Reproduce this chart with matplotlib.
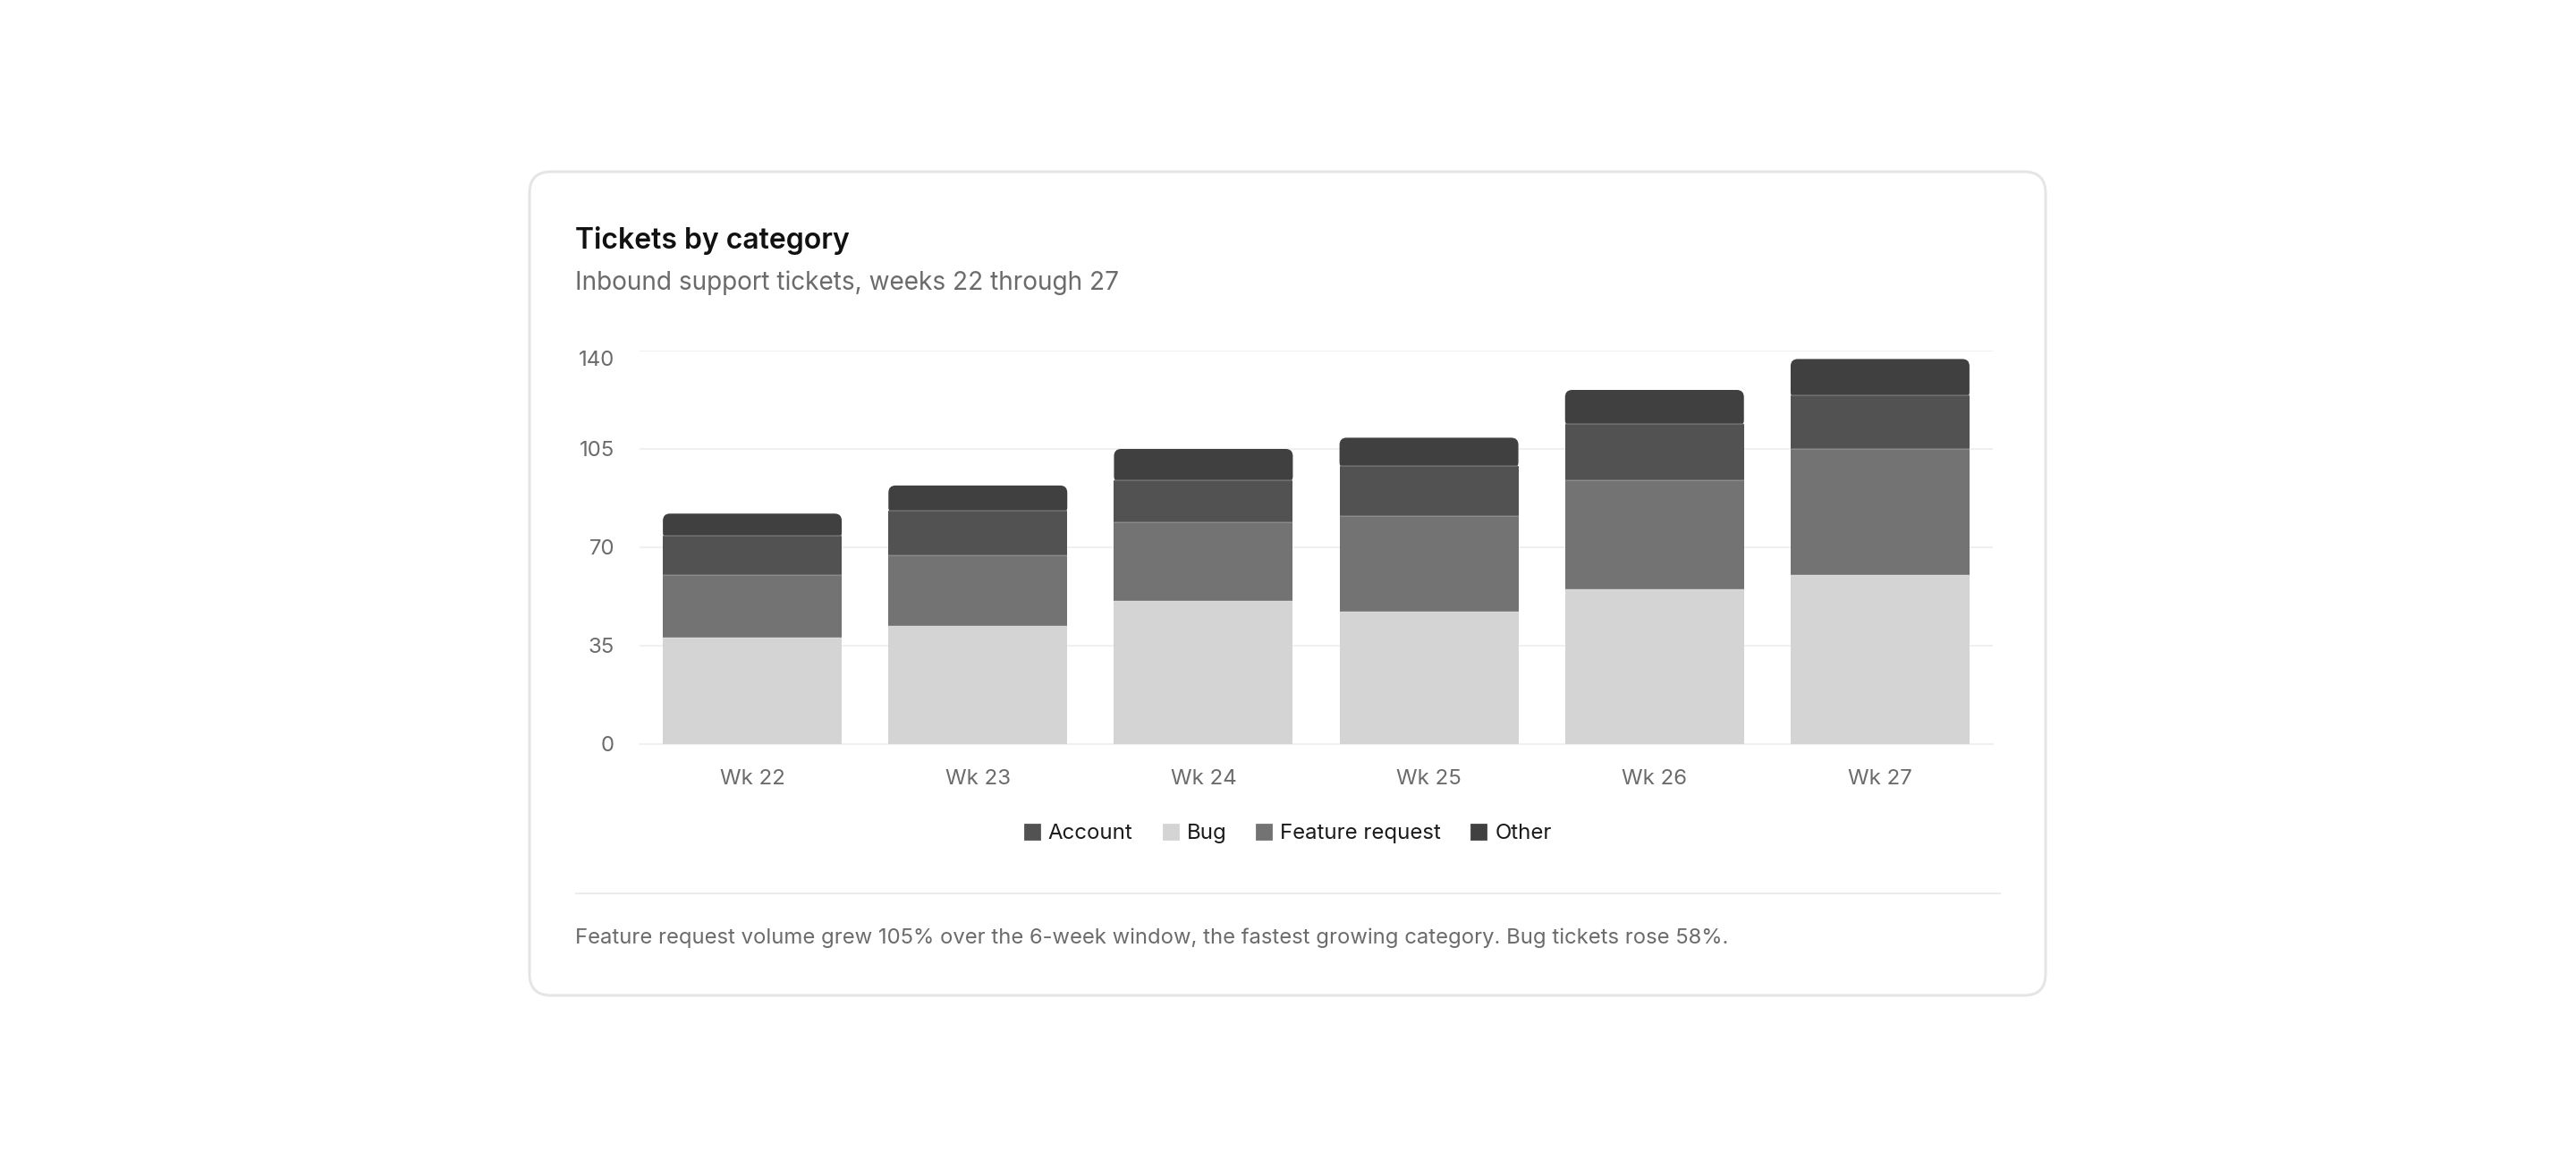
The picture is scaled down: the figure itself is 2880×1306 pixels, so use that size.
import matplotlib
matplotlib.use("Agg")
import matplotlib.pyplot as plt
from matplotlib.patches import FancyBboxPatch
from matplotlib.lines import Line2D
import matplotlib.transforms as mtransforms
import numpy as np

plt.rcParams['font.family'] = ['Inter', 'DejaVu Sans']

# ---------------- data ----------------
weeks = ["Wk 22", "Wk 23", "Wk 24", "Wk 25", "Wk 26", "Wk 27"]
bug = [38, 42, 51, 47, 55, 60]
feature_request = [22, 25, 28, 34, 39, 45]
account = [14, 16, 15, 18, 20, 19]
other = [8, 9, 11, 10, 12, 13]
y_ticks = [0, 35, 70, 105, 140]
legend_labels = ["Account", "Bug", "Feature request", "Other"]

title = "Tickets by category"
subtitle = "Inbound support tickets, weeks 22 through 27"
footer = ("Feature request volume grew 105% over the 6-week window, the fastest "
          "growing category. Bug tickets rose 58%.")

# ---------------- styles ----------------
C_BUG = "#d4d4d4"
C_FEAT = "#737373"
C_ACC = "#525252"
C_OTH = "#404040"
colors = {"Account": C_ACC, "Bug": C_BUG, "Feature request": C_FEAT, "Other": C_OTH}

W, H, DPI = 2880, 1306, 200
PT = 72.0 / DPI  # points per pixel

fig = plt.figure(figsize=(W / DPI, H / DPI), dpi=DPI)
fig.patch.set_facecolor("white")

# background axes in pixel coordinates
bg = fig.add_axes([0, 0, 1, 1])
bg.set_xlim(0, W)
bg.set_ylim(H, 0)
bg.axis("off")

card = FancyBboxPatch((592, 192), 2287 - 592, 1113 - 192,
                      boxstyle="round,pad=0,rounding_size=24",
                      fc="white", ec="#e5e5e5", lw=3 * PT)
bg.add_patch(card)

bg.text(643, 278, title, fontsize=32 * PT, fontweight="semibold",
        color="#111111", va="baseline", ha="left")
bg.text(643, 324, subtitle, fontsize=28 * PT, color="#6b6b6b",
        va="baseline", ha="left")
bg.plot([643, 2237], [999, 999], color="#ebebeb", lw=2 * PT,
        solid_capstyle="butt")
bg.text(643, 1055, footer, fontsize=23.85 * PT, color="#6b6b6b",
        va="baseline", ha="left")

# ---------------- chart ----------------
ax = fig.add_axes([715 / W, 1 - 832 / H, 1513 / W, 440 / H])
ax.set_facecolor("none")
x = np.arange(len(weeks))
bw = 0.793

b0 = np.zeros(len(weeks))
b1 = b0 + np.array(bug)
b2 = b1 + np.array(feature_request)
b3 = b2 + np.array(account)
b4 = b3 + np.array(other)

ax.bar(x, bug, bw, bottom=b0, color=C_BUG, zorder=3, linewidth=0)
ax.bar(x, feature_request, bw, bottom=b1, color=C_FEAT, zorder=3, linewidth=0)
ax.bar(x, account, bw, bottom=b2, color=C_ACC, zorder=3, linewidth=0)

# top segment with rounded upper corners
ax.set_xlim(-0.5, len(weeks) - 0.5)
ax.set_ylim(0, 140)
x_per_px = (len(weeks)) / 1513.0
y_per_px = 140.0 / 440.0
r_px = 8
for xi, lo, hi in zip(x, b3, b4):
    ext = 4 * y_per_px
    p = FancyBboxPatch((xi - bw / 2, lo - ext), bw, hi - lo + ext,
                       boxstyle=f"round,pad=0,rounding_size={r_px * x_per_px}",
                       mutation_aspect=y_per_px / x_per_px,
                       fc=C_OTH, ec="none", lw=0, zorder=2.5)
    ax.add_patch(p)

# subtle segment dividers
for tops in (b1, b2, b3):
    ax.hlines(tops, x - bw / 2, x + bw / 2, colors=(1, 1, 1, 0.22),
              lw=1.5 * PT, zorder=4)

ax.set_yticks(y_ticks)
ax.set_xticks(x)
ax.set_xticklabels(weeks)
ax.grid(axis="y", color="#f0f0f0", lw=2 * PT, zorder=0)
ax.set_axisbelow(True)
for s in ("top", "right", "left"):
    ax.spines[s].set_visible(False)
ax.spines["bottom"].set_color("#f0f0f0")
ax.spines["bottom"].set_linewidth(2 * PT)
ax.tick_params(axis="both", length=0, labelsize=24 * PT, labelcolor="#6b6b6b")
ax.tick_params(axis="x", pad=28 * PT)
ax.tick_params(axis="y", pad=28 * PT)

# nudge the top y label down a little, as in the reference
ytk = ax.yaxis.get_major_ticks()
top_lbl = ytk[len(y_ticks) - 1].label1
top_lbl.set_transform(top_lbl.get_transform() +
                      mtransforms.ScaledTranslation(0, -9 / DPI, fig.dpi_scale_trans))

# ---------------- legend ----------------
handles = [Line2D([], [], ls="none", marker="s", markersize=16 * PT,
                  markerfacecolor=colors[l], markeredgecolor=colors[l])
           for l in legend_labels]
fig.legend(handles, legend_labels, loc="center", bbox_to_anchor=(1440 / W, 1 - 932 / H),
           ncol=4, frameon=False, fontsize=24 * PT, labelcolor="#1a1a1a",
           handlelength=0.7, handletextpad=0.4, columnspacing=1.4,
           borderaxespad=0, borderpad=0)

fig.savefig("out.png", dpi=DPI, facecolor="white")
